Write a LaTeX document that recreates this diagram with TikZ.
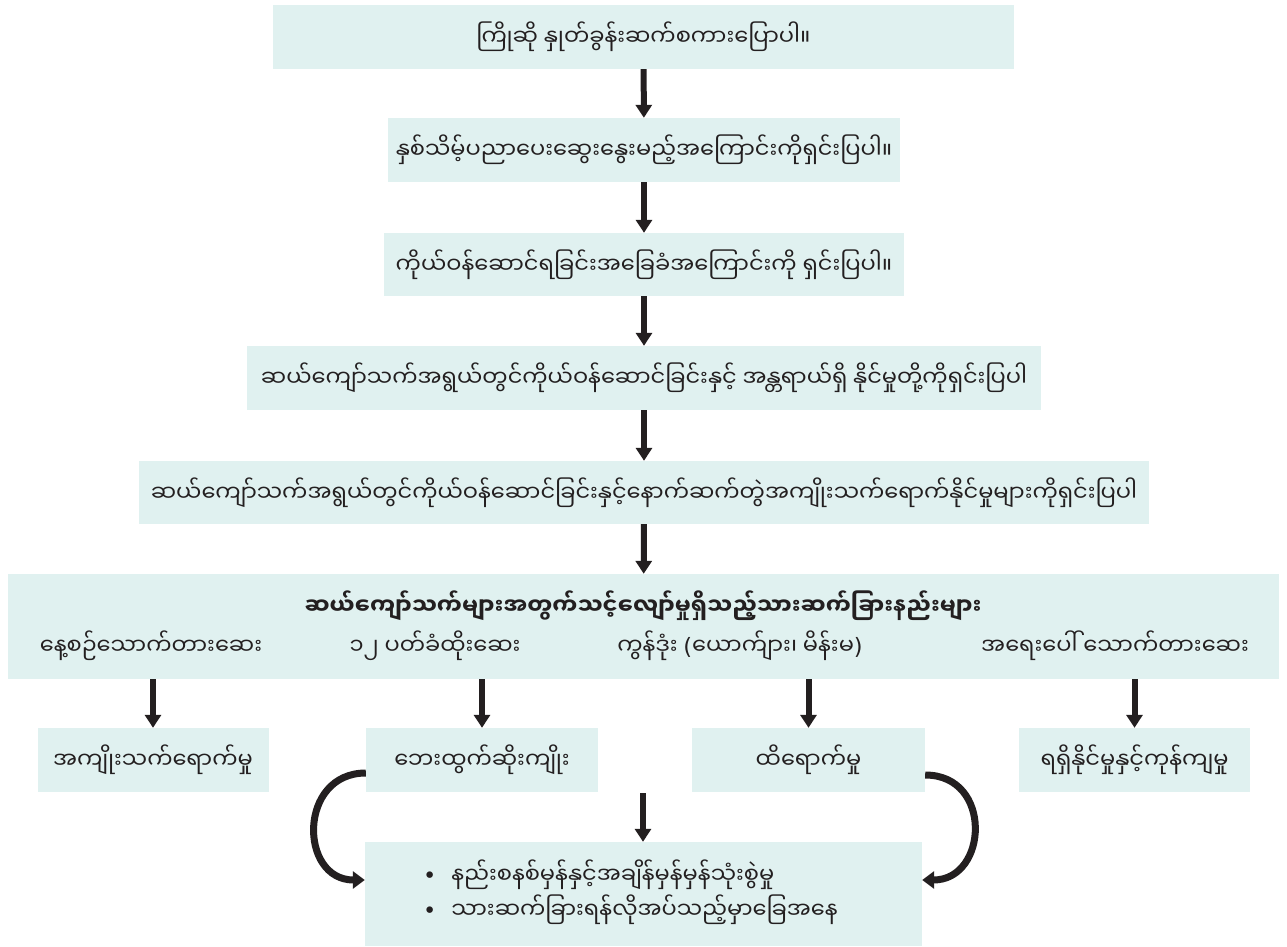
\documentclass[tikz,border=0pt]{standalone}
\usepackage{fontspec}
\setmainfont[Script=Myanmar]{Noto Sans Myanmar UI}
\newfontfamily\symfont{DejaVu Sans}
\usetikzlibrary{arrows.meta}
\definecolor{boxfill}{HTML}{E0F1F0}
\definecolor{ink}{HTML}{231F20}
\newcommand\mylp{{\symfont(}}
\newcommand\myrp{{\symfont)}}
\tikzset{
  box/.style={fill=boxfill, draw=none, inner sep=0pt, align=center, font=\fontsize{22.5}{35}\selectfont, text=ink},
  lbl/.style={inner sep=0pt, font=\fontsize{22.5}{35}\selectfont, text=ink},
  arr/.style={draw=ink, line width=6pt, -{Triangle[width=16pt,length=13pt]}},
  carr/.style={draw=ink, line width=7pt, -{Triangle[width=17pt,length=12pt]}}
}
\begin{document}
\begin{tikzpicture}[x=1pt,y=-1pt]
\useasboundingbox (0,0) rectangle (1287,947);
\node[box, minimum width=741pt, minimum height=64pt] (b1) at (643.5,37) {ကြိုဆို နှုတ်ခွန်းဆက်စကားပြောပါ။};
\node[box, minimum width=512pt, minimum height=64pt] (b2) at (644,150) {နှစ်သိမ့်ပညာပေးဆွေးနွေးမည့်အကြောင်းကိုရှင်းပြပါ။};
\node[box, minimum width=520pt, minimum height=63pt] (b3) at (644,264.5) {ကိုယ်ဝန်ဆောင်ရခြင်းအခြေခံအကြောင်းကို ရှင်းပြပါ။};
\node[box, minimum width=794pt, minimum height=64pt] (b4) at (644,378) {ဆယ်ကျော်သက်အရွယ်တွင်ကိုယ်ဝန်ဆောင်ခြင်းနှင့် အန္တရာယ်ရှိ နိုင်မှုတို့ကိုရှင်းပြပါ};
\node[box, minimum width=1010pt, minimum height=63pt] (b5) at (644,492.5) {ဆယ်ကျော်သက်အရွယ်တွင်ကိုယ်ဝန်ဆောင်ခြင်းနှင့်နောက်ဆက်တွဲအကျိုးသက်ရောက်နိုင်မှုများကိုရှင်းပြပါ};
\node[box, minimum width=1271pt, minimum height=105pt] (b6) at (643.5,626.5) {};
\node[lbl, font=\fontsize{22.5}{35}\selectfont\bfseries] (t6) at (643,606) {ဆယ်ကျော်သက်များအတွက်သင့်လျော်မှုရှိသည့်သားဆက်ခြားနည်းများ};
\node[lbl] (m1) at (151,646) {နေ့စဉ်သောက်တားဆေး};
\node[lbl] (m2) at (435,646) {၁၂ ပတ်ခံထိုးဆေး};
\node[lbl] (m3) at (740,646) {ကွန်ဒုံး \mylp ယောက်ျား၊ မိန်းမ\myrp};
\node[lbl] (m4) at (1115,646) {အရေးပေါ် သောက်တားဆေး};
\node[box, minimum width=231pt, minimum height=64pt] (r1) at (153,760) {အကျိုးသက်ရောက်မှု};
\node[box, minimum width=232pt, minimum height=64pt] (r2) at (482,760) {ဘေးထွက်ဆိုးကျိုး};
\node[box, minimum width=233pt, minimum height=64pt] (r3) at (808.5,760) {ထိရောက်မှု};
\node[box, minimum width=231pt, minimum height=64pt] (r4) at (1134.5,760) {ရရှိနိုင်မှုနှင့်ကုန်ကျမှု};
\node[box, minimum height=104pt, text width=441pt, inner xsep=58pt, align=left] (bot) at (643.5,894) {{\symfont •}\ \ နည်းစနစ်မှန်နှင့်အချိန်မှန်မှန်သုံးစွဲမှု\\{\symfont •}\ \ သားဆက်ခြားရန်လိုအပ်သည့်မှာခြေအနေ\vspace{4pt}};
\coordinate (mid) at (643,793);
\draw[arr] (b1) -- (b2);
\draw[arr] (b2) -- (b3);
\draw[arr] (b3) -- (b4);
\draw[arr] (b4) -- (b5);
\draw[arr] (b5) -- (b6);
\draw[arr] (b6.south -| r1) -- (r1.north);
\draw[arr] (b6.south -| r2) -- (r2.north);
\draw[arr] (b6.south -| r3) -- (r3.north);
\draw[arr] (b6.south -| r4) -- (r4.north);
\draw[arr] (mid) -- (bot.north -| mid);
\draw[carr] ([yshift=-13pt]r2.west) .. controls ([xshift=-68pt,yshift=-13pt]r2.west) and ([xshift=-66pt,yshift=14pt]bot.west) .. ([yshift=14pt]bot.west);
\draw[carr] ([yshift=-15pt]r3.east) .. controls ([xshift=68pt,yshift=-15pt]r3.east) and ([xshift=66pt,yshift=14pt]bot.east) .. ([yshift=14pt]bot.east);
\end{tikzpicture}
\end{document}
